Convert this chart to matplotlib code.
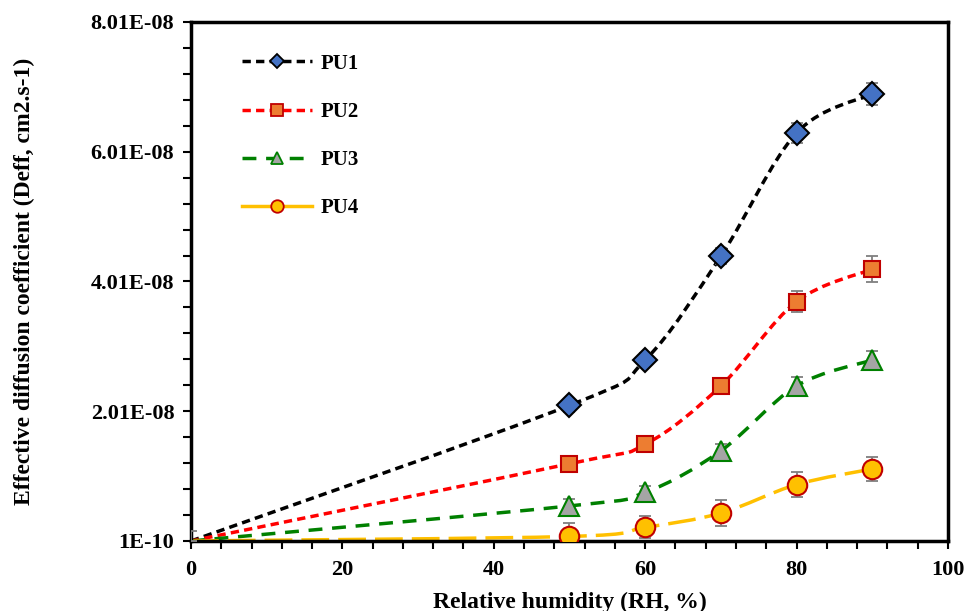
import numpy as np
import matplotlib
matplotlib.use('Agg')
import matplotlib.pyplot as plt
from matplotlib.path import Path
from matplotlib.patches import PathPatch
from matplotlib.lines import Line2D
from matplotlib.ticker import FixedLocator

plt.rcParams['font.family'] = ['Liberation Serif', 'DejaVu Serif']
plt.rcParams['font.weight'] = 'bold'
plt.rcParams['font.size'] = 16

# Relative humidity (%)
rh = [0, 50, 60, 70, 80, 90]

# Effective diffusion coefficient (cm2/s)
pu1 = [1e-10, 2.10e-8, 2.80e-8, 4.40e-8, 6.30e-8, 6.90e-8]
pu2 = [1e-10, 1.20e-8, 1.50e-8, 2.40e-8, 3.70e-8, 4.20e-8]
pu3 = [1e-10, 5.5e-9, 7.6e-9, 1.40e-8, 2.40e-8, 2.80e-8]
pu4 = [1e-10, 8e-10, 2.2e-9, 4.4e-9, 8.8e-9, 1.12e-8]

# error bars
pu1_err = [1.5e-9, 1.0e-9, 1.0e-9, 1.2e-9, 1.5e-9, 1.7e-9]
pu2_err = [0, 1.0e-9, 1.0e-9, 1.2e-9, 1.6e-9, 2.0e-9]
pu3_err = [0, 1.0e-9, 1.0e-9, 1.0e-9, 1.4e-9, 1.4e-9]
pu4_err = [0, 2.0e-9, 1.7e-9, 2.0e-9, 1.9e-9, 1.8e-9]

labels = ['PU1', 'PU2', 'PU3', 'PU4']

yticks = [1e-10, 2.01e-8, 4.01e-8, 6.01e-8, 8.01e-8]
ytick_labels = ['1E-10', '2.01E-08', '4.01E-08', '6.01E-08', '8.01E-08']


def smooth_path(x, y):
    # Excel-style smoothed line: cubic bezier through the points
    pts = np.column_stack([x, y])
    n = len(pts)
    verts = [pts[0]]
    codes = [Path.MOVETO]
    for i in range(n - 1):
        p0 = pts[max(i - 1, 0)]
        p1 = pts[i]
        p2 = pts[i + 1]
        p3 = pts[min(i + 2, n - 1)]
        c1 = p1 + (p2 - p0) / 6.0
        c2 = p2 - (p3 - p1) / 6.0
        verts += [c1, c2, p2]
        codes += [Path.CURVE4] * 3
    return Path(verts, codes)


styles = [
    dict(color='black', dash=(2.4, 1.5), marker='D', ms=12, mfc='#4472C4', mec='black', lms=7),
    dict(color='#FF0000', dash=(2.4, 1.5), marker='s', ms=12, mfc='#ED7D31', mec='#C00000', lms=8),
    dict(color='#008000', dash=(4.0, 2.8), marker='^', ms=14, mfc='#A5A5A5', mec='#008000', lms=9),
    dict(color='#FFC000', dash=(8.0, 2.6), marker='o', ms=14, mfc='#FFC000', mec='#C00000', lms=9),
]

series = [pu1, pu2, pu3, pu4]
errs = [pu1_err, pu2_err, pu3_err, pu4_err]

fig = plt.figure(figsize=(9.68, 6.11), dpi=100)
ax = fig.add_axes([0.1973, 0.1146, 0.782, 0.8494])

handles = []
for vals, err, st, lab in zip(series, errs, styles, labels):
    patch = PathPatch(smooth_path(rh, vals), fill=False, edgecolor=st['color'],
                      lw=2.5, linestyle=(0, st['dash']), capstyle='butt', zorder=2)
    ax.add_patch(patch)
    ax.errorbar(rh, vals, yerr=err, fmt='none', ecolor='#7F7F7F', elinewidth=1.3,
                capsize=4, capthick=1.3, zorder=3)
    ax.plot(rh[1:], vals[1:], linestyle='none', marker=st['marker'], ms=st['ms'],
            mfc=st['mfc'], mec=st['mec'], mew=1.5, zorder=4)
    handles.append(Line2D([0], [0], color=st['color'], lw=2.5,
                          linestyle=(0, st['dash']) if lab != 'PU4' else '-',
                          marker=st['marker'], ms=st['lms'], mfc=st['mfc'], mec=st['mec'], mew=1.3))

ax.set_xlim(0, 100)
ax.set_ylim(1e-10, 8.01e-8)
ax.set_xticks([0, 20, 40, 60, 80, 100])
ax.xaxis.set_minor_locator(FixedLocator(np.arange(0, 101, 4)))
ax.set_yticks(yticks)
ax.set_yticklabels(ytick_labels)
ax.yaxis.set_minor_locator(FixedLocator(np.arange(1e-10, 8.02e-8, 4e-9)))

ax.tick_params(which='both', direction='out', width=1.5, length=6, labelsize=16)
ax.tick_params(axis='x', pad=8)
ax.tick_params(axis='y', pad=6)
for lbl in ax.get_xticklabels() + ax.get_yticklabels():
    lbl.set_fontweight('bold')
for sp in ax.spines.values():
    sp.set_linewidth(2.5)

ax.set_xlabel('Relative humidity (RH, %)', fontsize=17, fontweight='bold', labelpad=8)
ax.set_ylabel('Effective diffusion coefficient (Deff, cm2.s-1)', fontsize=17, fontweight='bold', labelpad=40)

leg = ax.legend(handles, labels, loc='upper left', bbox_to_anchor=(0.042, 0.975), frameon=False,
                handlelength=3.4, handletextpad=0.4, labelspacing=1.35,
                prop={'weight': 'bold', 'size': 15})

plt.savefig('out.png', dpi=100)
plt.close()
